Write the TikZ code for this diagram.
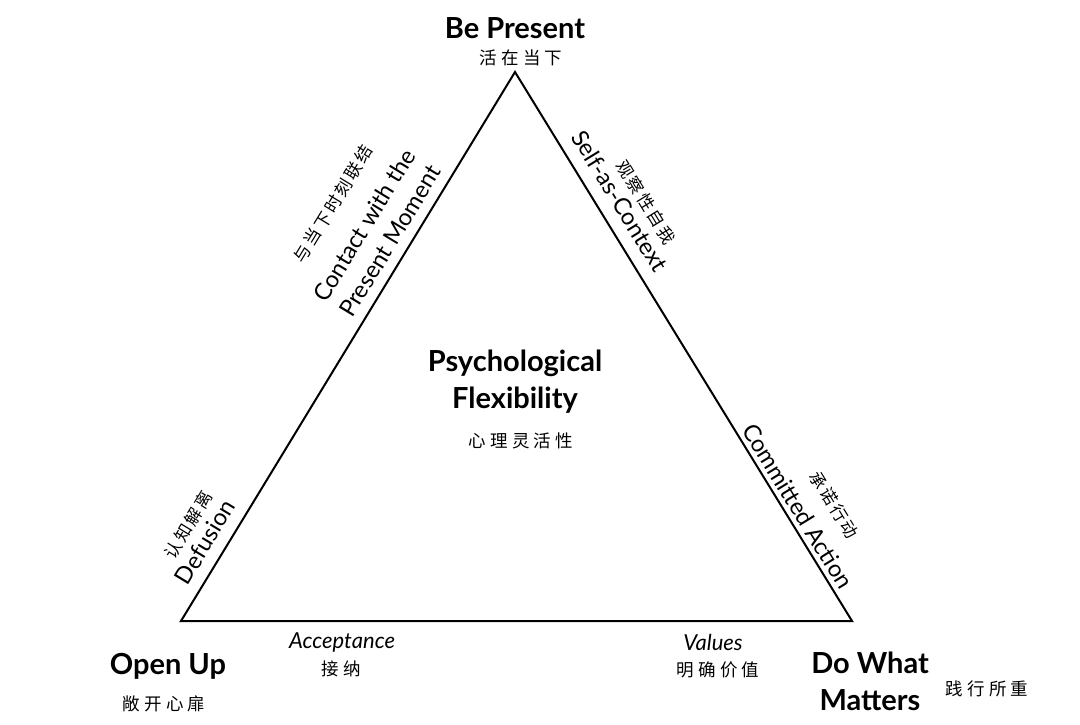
\documentclass[tikz,border=0pt]{standalone}
\usepackage{fontspec}
\setmainfont{Lato}
\newfontfamily\cjk[LetterSpace=14]{Noto Sans CJK SC}
\newfontfamily\cjkwide[LetterSpace=24]{Noto Sans CJK SC}
\begin{document}
\begin{tikzpicture}[x=1pt,y=-1pt,
  title/.style={font=\bfseries\fontsize{29}{37}\selectfont, align=center, inner sep=0pt},
  cn/.style={font=\cjk\fontsize{17}{20}\selectfont, inner sep=0pt},
  cnw/.style={font=\cjkwide\fontsize{17.5}{20}\selectfont, inner sep=0pt},
  side/.style={font=\fontsize{23.5}{30}\selectfont, align=center, inner sep=0pt},
  ital/.style={font=\itshape\fontsize{22}{26}\selectfont, inner sep=0pt},
  edge/.style={line width=2pt, line join=miter}]
\fill[white] (0,0) rectangle (1080,724);
\useasboundingbox (0,0) rectangle (1080,724);
\coordinate (T) at (515,72);
\coordinate (L) at (181,621);
\coordinate (R) at (852,621);
\draw[edge] (T) -- (L) -- (R) -- cycle;
% vertices
\node[title] (bp) at (515,28) {Be Present};
\node[cnw] (bpc) at (521,58) {活在当下};
\node[title] (ou) at (168,666) {Open Up};
\node[cnw] (ouc) at (164,704) {敞开心扉};
\node[title] (dw) at (870,681) {Do What\\Matters};
\node[cnw] (dwc) at (987,689) {践行所重};
% centre
\node[title] (pf) at (515,382) {Psychological\\Flexibility};
\node[cnw] (pfc) at (521,441) {心理灵活性};
% left edge
\node[side, rotate=58.7] (cp) at (377,233) {Contact with the\\Present Moment};
\node[cn, rotate=58.7] (cpc) at (333,204) {与当下时刻联结};
\node[side, rotate=58.7] (df) at (205,542) {Defusion};
\node[cn, rotate=58.7] (dfc) at (188,525) {认知解离};
% right edge
\node[side, rotate=-58.5] (sc) at (620,201) {Self-as-Context};
\node[cn, rotate=-58.5] (scc) at (646,202) {观察性自我};
\node[side, rotate=-58.5] (ca) at (798,506) {Committed Action};
\node[cn, rotate=-58.5] (cac) at (834,505) {承诺行动};
% bottom edge
\node[ital] (ac) at (342,642) {Acceptance};
\node[cnw] (acc) at (341,669) {接纳};
\node[ital] (va) at (713,642) {Values};
\node[cnw] (vac) at (718,670) {明确价值};
\end{tikzpicture}
\end{document}
